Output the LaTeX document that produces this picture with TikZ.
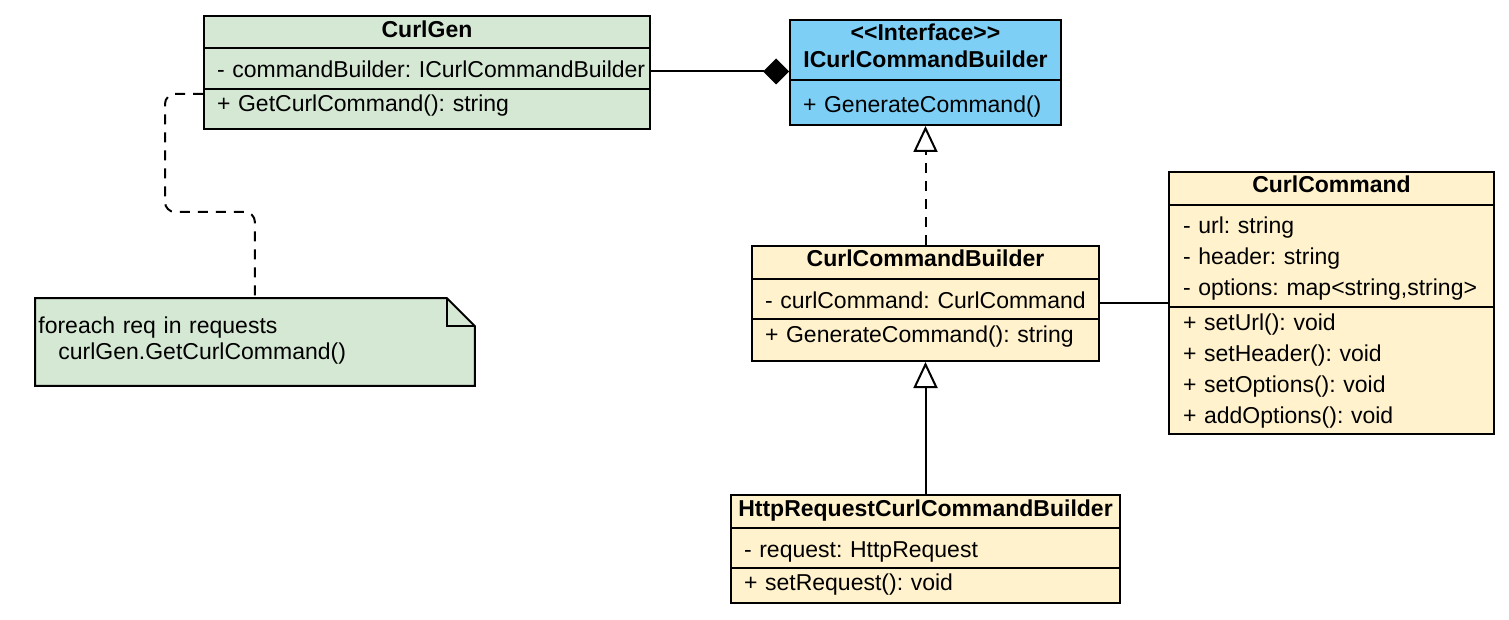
\documentclass[tikz,border=0pt]{standalone}
\usepackage{fontspec}
\setmainfont{Liberation Sans}
\usetikzlibrary{arrows.meta,backgrounds}
\definecolor{cgreen}{HTML}{D5E8D4}
\definecolor{cyellow}{HTML}{FFF2CC}
\definecolor{cblue}{HTML}{7DCFF6}
\newcommand\ufont{\fontsize{11.5}{13.5}\selectfont\frenchspacing}
\newcommand\lfont{\fontsize{11.5}{15.5}\selectfont\frenchspacing}
\newcommand\uitem[1]{\mbox{#1}}
\tikzset{
  cls/.style={draw, line width=1pt, anchor=north west, inner sep=0pt, inner xsep=6.5pt, align=left, font=\ufont},
  ttl/.style={cls, align=center, font=\ufont\bfseries},
  conn/.style={line width=1pt},
  dconn/.style={line width=1pt, dash pattern=on 5pt off 4pt},
  openTri/.style={-{Triangle[open, fill=white, length=13pt, width=12pt]}},
}
\begin{document}
\begin{tikzpicture}[x=0.5pt,y=-0.5pt]
\useasboundingbox (0,0) rectangle (1509,620);

% CurlGen
\node[ttl, fill=cgreen, text width=210pt, text height=11pt, text depth=5pt] (cgT) at (203,15) {CurlGen};
\node[cls, fill=cgreen, text width=210pt, text height=15pt, text depth=5.5pt] (cgA) at (203,47) {\uitem{- commandBuilder: ICurlCommandBuilder}};
\node[cls, fill=cgreen, text width=210pt, text height=11.5pt, text depth=8.5pt] (cgM) at (203,88) {\uitem{+ GetCurlCommand(): string}};

% Interface
\node[ttl, fill=cblue, text width=122.5pt, text height=10.5pt, text depth=19.5pt] (ifT) at (789,19) {\uitem{\textless\kern0pt\textless Interface\textgreater\kern0pt\textgreater}\\\uitem{ICurlCommandBuilder}};
\node[cls, fill=cblue, text width=122.5pt, text height=16.5pt, text depth=6pt] (ifM) at (789,79) {\uitem{+ GenerateCommand()}};

% CurlCommandBuilder
\node[ttl, fill=cyellow, text width=160.5pt, text height=10.5pt, text depth=6pt] (ccbT) at (751,245) {CurlCommandBuilder};
\node[cls, fill=cyellow, text width=160.5pt, text height=14.5pt, text depth=5.5pt] (ccbA) at (751,278) {\uitem{- curlCommand: CurlCommand}};
\node[cls, fill=cyellow, text width=160.5pt, text height=11.5pt, text depth=9.5pt] (ccbM) at (751,318) {\uitem{+ GenerateCommand(): string}};

% CurlCommand
\node[ttl, fill=cyellow, text width=149.5pt, text height=10.5pt, text depth=6pt] (ccT) at (1168,171) {CurlCommand};
\node[cls, fill=cyellow, text width=148.5pt, inner xsep=7pt, font=\lfont, text height=14.5pt, text depth=36.5pt] (ccA) at (1168,204) {\uitem{- url: string}\\\uitem{- header: string}\\\uitem{- options: map\textless string,string\textgreater}};
\node[cls, fill=cyellow, text width=148.5pt, inner xsep=7pt, font=\lfont, text height=11.5pt, text depth=52pt] (ccM) at (1168,306) {\uitem{+ setUrl(): void}\\\uitem{+ setHeader(): void}\\\uitem{+ setOptions(): void}\\\uitem{+ addOptions(): void}};

% HttpRequestCurlCommandBuilder
\node[ttl, fill=cyellow, text width=188.5pt, inner xsep=3pt, text height=10.5pt, text depth=6pt] (hT) at (730,494) {\uitem{HttpRequestCurlCommandBuilder}};
\node[cls, fill=cyellow, text width=181.5pt, text height=14.5pt, text depth=5.5pt] (hA) at (730,527) {\uitem{- request: HttpRequest}};
\node[cls, fill=cyellow, text width=181.5pt, text height=11pt, text depth=6.5pt] (hM) at (730,567) {\uitem{+ setRequest(): void}};

% Note
\node[anchor=north west, inner sep=0pt, inner xsep=1.5pt, text width=216.5pt, text height=17.5pt, text depth=26pt, align=left, font=\fontsize{11.5}{13}\selectfont\frenchspacing] (note) at (35,298) {\uitem{foreach req in requests}\\\uitem{\hspace*{10pt}curlGen.GetCurlCommand()}};
\begin{pgfonlayer}{background}
\draw[line width=1pt, fill=cgreen] (note.north west) -- ([xshift=-14pt]note.north east) -- ([yshift=-14pt]note.north east) -- (note.south east) -- (note.south west) -- cycle;
\draw[line width=1pt] ([xshift=-14pt]note.north east) -- ([xshift=-14pt,yshift=-14pt]note.north east) -- ([yshift=-14pt]note.north east);
\end{pgfonlayer}

% Connectors
\draw[conn, -{Diamond[length=13pt, width=13pt]}] ([yshift=-1.5pt]cgA.east) -- ([yshift=-1.5pt]cgA.east -| ifT.west);
\draw[dconn, openTri] (ccbT.north) -- (ifM.south);
\draw[conn, openTri] (hT.north) -- (ccbM.south);
\draw[conn] ([yshift=-2pt]ccbA.east) -- ([yshift=-2pt]ccbA.east -| ccT.west);
\draw[dconn, rounded corners=5pt] ([yshift=-3pt]cgM.north west) -| (165,212) -| (note.north);
\end{tikzpicture}
\end{document}
